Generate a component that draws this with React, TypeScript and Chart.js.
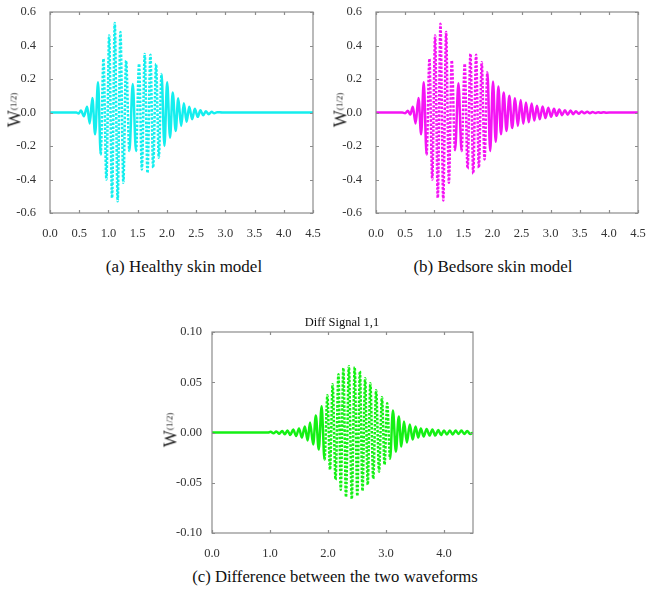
import React, { useEffect, useRef } from "react";
import { Chart, registerables } from "chart.js";

Chart.register(...registerables);

const SERIF = '"Liberation Serif", "Times New Roman", Times, serif';

// (a) Healthy skin model: times (x) and amplitudes of successive peaks / troughs
const healthyT = [
  0, 0.45, 0.49, 0.53, 0.58, 0.635, 0.68, 0.725, 0.772, 0.822, 0.868, 0.915,
  0.965, 1.012, 1.062, 1.108, 1.158, 1.205, 1.255, 1.302, 1.358, 1.416, 1.472,
  1.524, 1.572, 1.621, 1.668, 1.718, 1.765, 1.815, 1.862, 1.908, 1.958, 2.004,
  2.054, 2.1, 2.15, 2.194, 2.244, 2.29, 2.338, 2.382, 2.432, 2.478, 2.528, 2.574,
  2.622, 2.666, 2.716, 2.765, 2.81, 2.86, 2.95, 4.5,
];
const healthyW = [
  0, 0, -0.006, 0.012, -0.022, 0.035, -0.065, 0.086, -0.13, 0.18, -0.25, 0.32,
  -0.4, 0.46, -0.51, 0.535, -0.53, 0.48, -0.42, 0.31, -0.23, 0.17, -0.23,
  0.29, -0.34, 0.35, -0.36, 0.345, -0.33, 0.29, -0.27, 0.23, -0.2, 0.18,
  -0.15, 0.12, -0.11, 0.085, -0.08, 0.055, -0.055, 0.035, -0.04, 0.022, -0.026, 0.013,
  -0.017, 0.007, -0.01, 0.004, -0.005, 0.002, 0, 0,
];

// (b) Bedsore skin model
const bedsoreT = [
  0, 0.45, 0.5, 0.547, 0.59, 0.632, 0.68, 0.73, 0.775, 0.82, 0.869, 0.918,
  0.966, 1.015, 1.061, 1.107, 1.155, 1.204, 1.252, 1.301, 1.358, 1.416, 1.47,
  1.524, 1.573, 1.622, 1.67, 1.719, 1.767, 1.816, 1.864, 1.913, 1.961, 2.01,
  2.056, 2.102, 2.147, 2.193, 2.241, 2.29, 2.339, 2.388, 2.436, 2.485, 2.53,
  2.576, 2.624, 2.673, 2.719, 2.765, 2.813, 2.862, 2.91, 2.959, 3.008, 3.057,
  3.102, 3.148, 3.196, 3.245, 3.293, 3.342, 3.388, 3.434, 3.482, 3.531, 3.579,
  3.628, 3.674, 3.72, 3.767, 3.815, 3.862, 3.91, 3.96, 4.05, 4.5,
];
const bedsoreW = [
  0, 0, -0.004, 0.01, -0.012, 0.035, -0.065, 0.087, -0.13, 0.18, -0.25, 0.32,
  -0.4, 0.46, -0.51, 0.53, -0.525, 0.48, -0.42, 0.31, -0.225, 0.175, -0.23,
  0.29, -0.335, 0.35, -0.365, 0.345, -0.33, 0.3, -0.28, 0.24, -0.23, 0.185,
  -0.175, 0.155, -0.13, 0.12, -0.11, 0.1, -0.093, 0.085, -0.08, 0.075, -0.067,
  0.06, -0.058, 0.054, -0.048, 0.04, -0.04, 0.036, -0.033, 0.028, -0.026, 0.022,
  -0.02, 0.018, -0.016, 0.014, -0.013, 0.012, -0.01, 0.008, -0.007, 0.006, -0.005,
  0.004, -0.004, 0.003, -0.003, 0.002, -0.002, 0.002, -0.001, 0, 0,
];

// (c) Difference signal
const diffT = [
  0, 0.97, 1.01, 1.06, 1.11, 1.16, 1.21, 1.255, 1.3, 1.35, 1.4, 1.45, 1.5,
  1.55, 1.6, 1.65, 1.69, 1.745, 1.79, 1.84, 1.89, 1.94, 1.99, 2.035, 2.08,
  2.13, 2.18, 2.22, 2.265, 2.31, 2.36, 2.41, 2.46, 2.505, 2.55, 2.595, 2.64,
  2.685, 2.73, 2.78, 2.83, 2.88, 2.93, 2.975, 3.02, 3.07, 3.12, 3.17, 3.22,
  3.265, 3.31, 3.36, 3.41, 3.46, 3.51, 3.555, 3.6, 3.65, 3.7, 3.75, 3.8, 3.85,
  3.9, 3.95, 4.0, 4.05, 4.1, 4.15, 4.2, 4.25, 4.3, 4.35, 4.4, 4.45, 4.5,
];
const diffW = [
  0, 0, 0.0008, -0.0008, 0.001, -0.0012, 0.0015, -0.0018, 0.002, -0.0025, 0.003,
  -0.0035, 0.004, -0.005, 0.006, -0.008, 0.01, -0.012, 0.017, -0.017, 0.026,
  -0.027, 0.037, -0.037, 0.048, -0.047, 0.058, -0.057, 0.064, -0.064, 0.066,
  -0.066, 0.065, -0.063, 0.061, -0.058, 0.054, -0.052, 0.049, -0.046, 0.042,
  -0.039, 0.035, -0.032, 0.029, -0.026, 0.022, -0.019, 0.016, -0.014, 0.011,
  -0.01, 0.008, -0.007, 0.006, -0.005, 0.004, -0.004, 0.0035, -0.003, 0.003,
  -0.003, 0.0025, -0.0025, 0.002, -0.002, 0.002, -0.002, 0.002, -0.0015, 0.002,
  -0.0015, 0.0015, -0.0015, 0,
];

const fmt = (v: any, digits: number) => {
  const n = Number(v);
  return (Math.abs(n) < 1e-9 ? 0 : n).toFixed(digits);
};

// Grey box around the plot area with short inward tick marks on all four sides
const framePlugin = {
  id: "frameBox",
  afterDatasetsDraw(chart: any) {
    const { ctx, chartArea: a, scales } = chart;
    ctx.save();
    ctx.strokeStyle = "#8c8c8c";
    ctx.lineWidth = 1.2;
    ctx.strokeRect(a.left, a.top, a.right - a.left, a.bottom - a.top);
    const len = 3;
    ctx.beginPath();
    scales.x.ticks.forEach((t: any) => {
      const px = Math.round(scales.x.getPixelForValue(t.value)) + 0.5;
      ctx.moveTo(px, a.bottom);
      ctx.lineTo(px, a.bottom - len);
      ctx.moveTo(px, a.top);
      ctx.lineTo(px, a.top + len);
    });
    scales.y.ticks.forEach((t: any) => {
      const py = Math.round(scales.y.getPixelForValue(t.value)) + 0.5;
      ctx.moveTo(a.left, py);
      ctx.lineTo(a.left + len, py);
      ctx.moveTo(a.right, py);
      ctx.lineTo(a.right - len, py);
    });
    ctx.stroke();
    ctx.restore();
  },
};

type WaveProps = {
  times: number[];
  values: number[];
  color: string;
  yMin: number;
  yMax: number;
  yStep: number;
  yDigits: number;
  xStep: number;
  dashAbove: number;
  left: number;
  top: number;
  width: number;
  height: number;
  pad: { top: number; right: number; left: number; bottom: number };
  yWidth: number;
  yPad: number;
};

function WaveChart(p: WaveProps) {
  const ref = useRef<HTMLCanvasElement>(null);
  useEffect(() => {
    const tickFont = { family: SERIF, size: 12.5 };
    const chart = new Chart(ref.current as HTMLCanvasElement, {
      type: "line",
      data: {
        datasets: [
          {
            data: p.times.map((t, i) => ({ x: t, y: p.values[i] })),
            borderColor: p.color,
            borderWidth: 2.5,
            pointRadius: 0,
            fill: false,
            cubicInterpolationMode: "monotone",
            segment: {
              borderDash: (c: any) =>
                Math.abs(c.p1.y - c.p0.y) > p.dashAbove ? [2.5, 1.5] : undefined,
            },
          } as any,
        ],
      },
      options: {
        animation: false,
        responsive: false,
        events: [],
        layout: { padding: p.pad },
        plugins: {
          legend: { display: false },
          tooltip: { enabled: false },
          title: { display: false },
        },
        scales: {
          x: {
            type: "linear",
            min: 0,
            max: 4.5,
            grid: { display: false },
            border: { display: false },
            ticks: {
              stepSize: p.xStep,
              includeBounds: false,
              autoSkip: false,
              maxRotation: 0,
              padding: 5,
              color: "#333",
              font: tickFont,
              callback: (v: any) => fmt(v, 1),
            },
            afterFit: (s: any) => {
              s.height = 27;
              s.paddingLeft = 0;
              s.paddingRight = 0;
            },
          },
          y: {
            type: "linear",
            min: p.yMin,
            max: p.yMax,
            grid: { display: false },
            border: { display: false },
            ticks: {
              stepSize: p.yStep,
              autoSkip: false,
              padding: p.yPad,
              color: "#333",
              font: tickFont,
              callback: (v: any) => fmt(v, p.yDigits),
            },
            afterFit: (s: any) => {
              s.width = p.yWidth;
              s.paddingTop = 0;
              s.paddingBottom = 0;
            },
          },
        },
      } as any,
      plugins: [framePlugin],
    });
    return () => chart.destroy();
  }, []);
  return (
    <canvas
      ref={ref}
      width={p.width}
      height={p.height}
      style={{ position: "absolute", left: p.left, top: p.top, width: p.width, height: p.height, display: "block" }}
    />
  );
}

function YTitle({ cx, cy }: { cx: number; cy: number }) {
  return (
    <div
      style={{
        position: "absolute",
        left: cx,
        top: cy,
        transform: "translate(-50%, -50%) rotate(-90deg)",
        fontFamily: SERIF,
        fontSize: 18,
        lineHeight: "18px",
        color: "#222",
        whiteSpace: "nowrap",
      }}
    >
      W<span style={{ fontSize: 9, position: "relative", top: -4 }}>(1/2)</span>
    </div>
  );
}

function Caption({ cx, cy, text, size = 17 }: { cx: number; cy: number; text: string; size?: number }) {
  return (
    <div
      style={{
        position: "absolute",
        left: cx,
        top: cy - size / 2,
        transform: "translateX(-50%)",
        fontFamily: SERIF,
        fontSize: size,
        lineHeight: `${size}px`,
        color: "#111",
        whiteSpace: "nowrap",
      }}
    >
      {text}
    </div>
  );
}

export default function App() {
  return (
    <div
      style={{
        position: "absolute",
        left: 0,
        top: 0,
        width: 647,
        height: 594,
        background: "#fff",
        overflow: "hidden",
      }}
    >
      <WaveChart
        times={healthyT}
        values={healthyW}
        color="#14eeee"
        yMin={-0.6}
        yMax={0.6}
        yStep={0.2}
        yDigits={1}
        xStep={0.5}
        dashAbove={80}
        left={0}
        top={0}
        width={321}
        height={240}
        pad={{ top: 12, right: 8, left: 0, bottom: 0 }}
        yWidth={50}
        yPad={6}
      />
      <WaveChart
        times={bedsoreT}
        values={bedsoreW}
        color="#f414f4"
        yMin={-0.6}
        yMax={0.6}
        yStep={0.2}
        yDigits={1}
        xStep={0.5}
        dashAbove={80}
        left={326}
        top={0}
        width={321}
        height={240}
        pad={{ top: 12, right: 9, left: 0, bottom: 0 }}
        yWidth={50}
        yPad={6}
      />
      <WaveChart
        times={diffT}
        values={diffW}
        color="#14f014"
        yMin={-0.1}
        yMax={0.1}
        yStep={0.05}
        yDigits={2}
        xStep={1}
        dashAbove={55}
        left={162}
        top={300}
        width={320}
        height={260}
        pad={{ top: 32, right: 9, left: 0, bottom: 0 }}
        yWidth={50}
        yPad={2}
      />
      <YTitle cx={15.5} cy={110} />
      <YTitle cx={341.5} cy={110} />
      <YTitle cx={172} cy={430} />
      <Caption cx={342} cy={322} text="Diff Signal 1,1" size={12.5} />
      <Caption cx={184} cy={266} text="(a) Healthy skin model" />
      <Caption cx={493} cy={266} text="(b) Bedsore skin model" />
      <Caption cx={335} cy={577} text="(c) Difference between the two waveforms" size={16.7} />
    </div>
  );
}
